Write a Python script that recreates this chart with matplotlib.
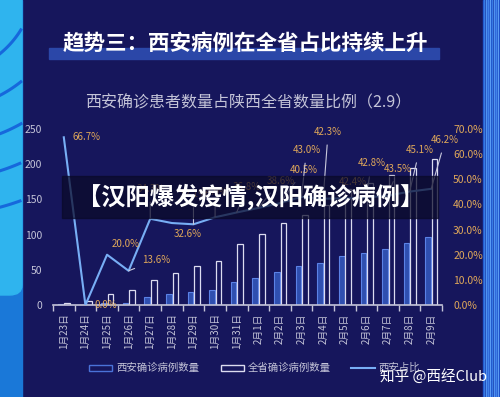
import numpy as np
import matplotlib.pyplot as plt
from matplotlib.patches import Rectangle, FancyBboxPatch
from matplotlib.ticker import FuncFormatter, MultipleLocator

plt.rcParams['font.family'] = ['Noto Sans CJK SC', 'DejaVu Sans']

# 数据
dates = ["1月23日", "1月24日", "1月25日", "1月26日", "1月27日", "1月28日", "1月29日",
         "1月30日", "1月31日", "2月1日", "2月2日", "2月3日", "2月4日", "2月5日",
         "2月6日", "2月7日", "2月8日", "2月9日"]
xian = [2, 0, 3, 3, 12, 15, 18, 22, 32, 39, 47, 55, 60, 70, 74, 80, 88, 96]
shaanxi = [3, 5, 15, 22, 35, 46, 56, 63, 87, 101, 116, 128, 142, 165, 173, 184, 195, 208]
ratio = [66.7, 0.0, 20.0, 13.6, 34.3, 32.6, 32.1, 34.9, 36.8, 38.6, 40.5, 43.0,
         42.3, 42.4, 42.8, 43.5, 45.1, 46.2]

# 标签偏移（像素）
label_off = [(23, 0), (20, 0), (19, 11), (28, 11), (0, 30), (16, -11), (0, 30),
             (0, 25), (10, 25), (22, 27), (24, 33), (5, 47), (5, 67), (8, 16),
             (5, 34), (10, 27), (10, 42), (14, 49)]

BG = '#16165c'
GOLD = '#e0a85a'
GREY = '#c4c4d8'

W, H = 500, 397


def fx(px):
    return np.asarray(px) / W


def fy(py):
    return 1 - np.asarray(py) / H


fig = plt.figure(figsize=(5, 3.97), dpi=100, facecolor=BG)

# 左侧装饰条
fig.patches.append(Rectangle((0, 0), fx(22), 1, transform=fig.transFigure,
                             color='#1a78d8', zorder=0))
fig.patches.append(FancyBboxPatch((fx(-30), fy(295)), fx(52), fy(-20) - fy(295),
                                  boxstyle='round,pad=0,rounding_size=0.025',
                                  transform=fig.transFigure, color='#2fb4ee', zorder=0.5))
theta = np.linspace(0, np.pi / 2, 200)
for R in [95, 130, 165, 200, 235]:
    xs = -60 + R * np.cos(theta)
    ys = -20 + R * np.sin(theta)
    keep = (xs >= 0) & (xs <= 21) & (ys <= 285)
    if keep.sum() < 2:
        continue
    fig.lines.append(plt.Line2D(fx(xs[keep]), fy(ys[keep]), transform=fig.transFigure,
                                color='#1668dc', lw=2.2, zorder=1))

# 右侧装饰条
stripe_cols = ['#1d4fc8', '#3f8af0', '#1a40b0', '#5aa0f5', '#2a60d8', '#4a90f0', '#1d4fc8', '#6ab0ff']
for i in range(17):
    fig.patches.append(Rectangle((fx(483 + i), 0), fx(1), 1, transform=fig.transFigure,
                                 color=stripe_cols[i % len(stripe_cols)], zorder=0))

# 标题
fig.patches.append(Rectangle((fx(49), fy(59)), fx(390), 11 / H,
                             transform=fig.transFigure, color='#2b47a8', zorder=1))
fig.text(fx(245), fy(43), "趋势三：西安病例在全省占比持续上升", color='white',
         fontsize=15.5, fontweight='bold', ha='center', va='center', zorder=2)
fig.text(fx(248), fy(103), "西安确诊患者数量占陕西全省数量比例（2.9）", color=GREY,
         fontsize=11.5, ha='center', va='center')

ax = fig.add_axes([fx(53), fy(305), fx(389), 176 / H])
ax.set_facecolor('none')
x = list(range(len(dates)))
ax.bar([i - 0.14 for i in x], xian, width=0.26, color='#2f4fb0', edgecolor='#5b82e6',
       linewidth=0.8, zorder=2)
ax.bar([i + 0.16 for i in x], shaanxi, width=0.26, color=BG, edgecolor='#dcdcf0',
       linewidth=0.9, zorder=2)
ax.set_xlim(-0.5, len(dates) - 0.5)
ax.set_ylim(0, 250)
ax.yaxis.set_major_locator(MultipleLocator(50))
ax.set_xticks(x)
ax.set_xticklabels(dates, rotation=90, fontsize=7, color=GREY)
ax.set_xticks([i - 0.5 for i in range(len(dates) + 1)], minor=True)
ax.tick_params(axis='x', which='major', length=0, pad=6)
ax.tick_params(axis='x', which='minor', length=4, color=GREY, width=1)
ax.tick_params(axis='y', length=0, labelsize=7.5, labelcolor=GREY, pad=8)
for s in ['top', 'left', 'right']:
    ax.spines[s].set_visible(False)
ax.spines['bottom'].set_color(GREY)
ax.spines['bottom'].set_linewidth(1.2)

ax2 = ax.twinx()
ax2.set_ylim(0, 70)
ax2.yaxis.set_major_locator(MultipleLocator(10))
ax2.yaxis.set_major_formatter(FuncFormatter(lambda v, p: f"{v:.1f}%"))
ax2.tick_params(axis='y', length=0, labelsize=7.5, labelcolor=GOLD, pad=8)
for s in ['top', 'left', 'right', 'bottom']:
    ax2.spines[s].set_visible(False)
ax2.plot(x, ratio, color='#78aef5', lw=1.5, zorder=3)
for i, (v, off) in enumerate(zip(ratio, label_off)):
    props = None
    if off[1] > 15 or off[0] > 25:
        props = dict(arrowstyle='-', color='#c8c8dc', lw=0.8, shrinkA=4, shrinkB=0)
    ax2.annotate(f"{v:.1f}%", (i, v), xytext=off, textcoords='offset pixels',
                 ha='center', va='center', fontsize=7, color=GOLD, arrowprops=props, zorder=4)

# 图例
lx = [89, 221]
names = ["西安确诊病例数量", "全省确诊病例数量"]
edges = ['#4a72d8', '#dcdcf0']
for px, nm, ec in zip(lx, names, edges):
    fig.patches.append(Rectangle((fx(px), fy(371)), fx(23), 6 / H,
                                 transform=fig.transFigure, facecolor=BG, edgecolor=ec, lw=1))
    fig.text(fx(px + 27), fy(368), nm, color=GREY, fontsize=7.5, va='center')
fig.lines.append(plt.Line2D([fx(351), fx(375)], [fy(368)] * 2,
                            transform=fig.transFigure, color='#78aef5', lw=1.5))
fig.text(fx(378), fy(368), "西安占比", color=GREY, fontsize=7.5, va='center')
fig.text(fx(433), fy(376), "知乎 @西经Club", color='white', fontsize=10.5,
         ha='center', va='center', zorder=6)

# 横幅
fig.patches.append(Rectangle((fx(62), fy(218)), fx(376), 42 / H,
                             transform=fig.transFigure, color='#0a0a28', alpha=0.72, zorder=5))
fig.text(fx(251), fy(197), "【汉阳爆发疫情,汉阳确诊病例】", color='white',
         fontsize=17.5, fontweight='bold', ha='center', va='center', zorder=6)

fig.savefig('out.png', dpi=100, facecolor=BG)
